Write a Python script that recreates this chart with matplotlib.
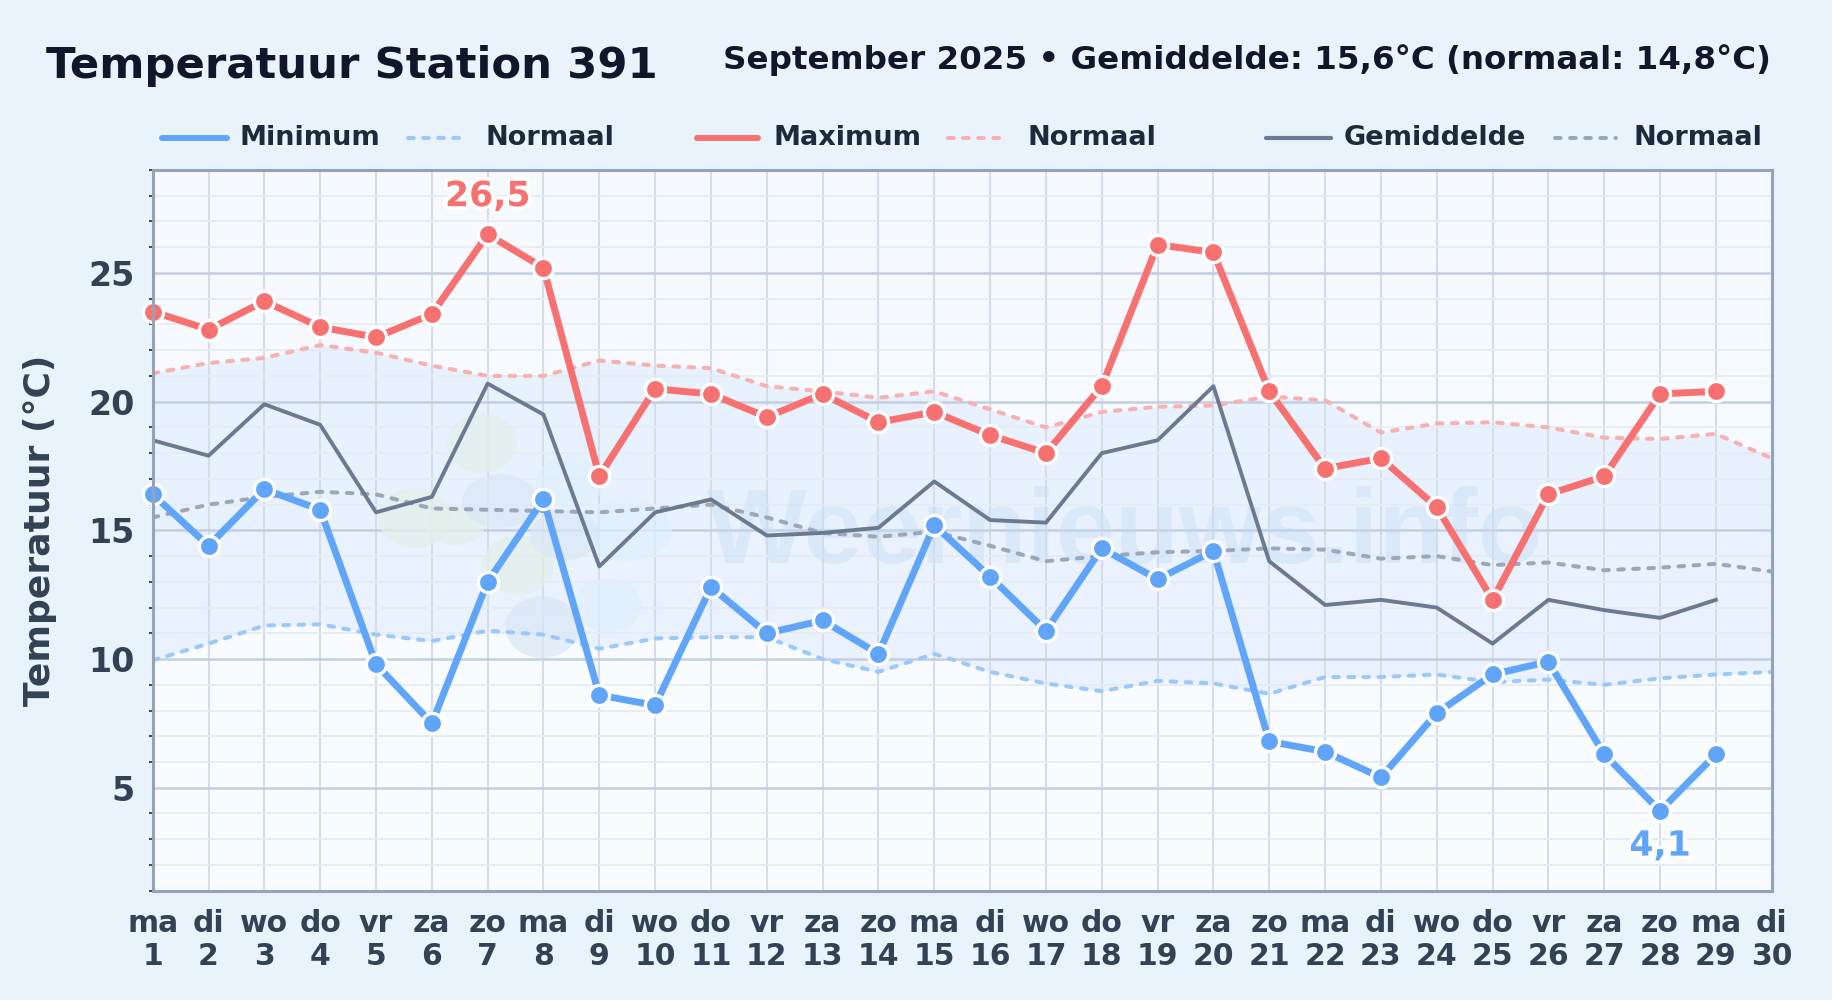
import numpy as np
import matplotlib
matplotlib.use('Agg')
import matplotlib.pyplot as plt
from matplotlib.lines import Line2D
from matplotlib.patches import Ellipse
import matplotlib.patheffects as pe

days = list(range(1, 31))
weekdays = ['ma', 'di', 'wo', 'do', 'vr', 'za', 'zo'] * 4 + ['ma', 'di']

temp_min = [16.4, 14.4, 16.6, 15.8, 9.8, 7.5, 13.0, 16.2, 8.6, 8.2, 12.8, 11.0, 11.5, 10.2, 15.2,
            13.2, 11.1, 14.3, 13.1, 14.2, 6.8, 6.4, 5.4, 7.9, 9.4, 9.9, 6.3, 4.1, 6.3]
temp_max = [23.5, 22.8, 23.9, 22.9, 22.5, 23.4, 26.5, 25.2, 17.1, 20.5, 20.3, 19.4, 20.3, 19.2, 19.6,
            18.7, 18.0, 20.6, 26.1, 25.8, 20.4, 17.4, 17.8, 15.9, 12.3, 16.4, 17.1, 20.3, 20.4]
temp_mean = [18.5, 17.9, 19.9, 19.1, 15.7, 16.3, 20.7, 19.5, 13.6, 15.7, 16.2, 14.8, 14.9, 15.1, 16.9,
             15.4, 15.3, 18.0, 18.5, 20.6, 13.8, 12.1, 12.3, 12.0, 10.6, 12.3, 11.9, 11.6, 12.3]
norm_max = [21.1, 21.5, 21.7, 22.2, 21.9, 21.4, 21.0, 21.0, 21.6, 21.4, 21.3, 20.6, 20.4, 20.15, 20.4,
            19.7, 19.0, 19.6, 19.8, 19.85, 20.2, 20.05, 18.8, 19.15, 19.2, 19.0, 18.6, 18.55, 18.75, 17.8]
norm_min = [9.95, 10.6, 11.3, 11.35, 10.95, 10.7, 11.1, 10.95, 10.4, 10.8, 10.85, 10.85, 10.0, 9.5, 10.2,
            9.5, 9.05, 8.75, 9.15, 9.05, 8.65, 9.3, 9.3, 9.4, 9.1, 9.2, 9.0, 9.25, 9.4, 9.5]
norm_mean = [15.5, 16.0, 16.3, 16.5, 16.4, 15.85, 15.8, 15.75, 15.7, 15.85, 16.0, 15.5, 14.9, 14.75, 14.95,
             14.4, 13.8, 14.0, 14.15, 14.2, 14.3, 14.25, 13.9, 14.0, 13.65, 13.75, 13.45, 13.55, 13.7, 13.4]

BG = '#e9f3fc'
BLUE = '#60a5fa'
RED = '#f87171'
GREY = '#6b7a90'
BLUE_N = '#9cc8fb'
RED_N = '#f9b0b0'
GREY_N = '#9aa8ba'
INK = '#0f172a'
LABEL = '#334155'
DASH = (0, (1.4, 2.35))

W, H = 1832, 1000
plt.rcParams['font.family'] = ['DejaVu Sans']
plt.rcParams['font.weight'] = 'bold'

fig = plt.figure(figsize=(W / 100, H / 100), dpi=100, facecolor=BG)
ax = fig.add_axes([152.7 / W, 1 - 890.7 / H, 1619 / W, 720.7 / H])
ax.set_facecolor('#f8fbff')

# achtergrond verloop
grad = np.linspace(0, 1, 256).reshape(-1, 1)
ax.imshow(grad, extent=[1, 30, 1, 29], aspect='auto', origin='lower', zorder=0,
          cmap=matplotlib.colors.LinearSegmentedColormap.from_list('bg', ['#fafdff', '#f6faff']))

ax.fill_between(days, norm_min, norm_max, color='#dbeafe', alpha=0.5, lw=0, zorder=0.5)

# watermerk
GREEN_B = '#e3efe9'
DARK_B = '#dbe8f6'
PALE_B = '#e0eefc'
blobs = [(482, 443, 70, 60, GREEN_B), (415, 518, 74, 60, GREEN_B), (518, 565, 72, 60, GREEN_B),
         (455, 525, 60, 40, GREEN_B), (570, 482, 68, 52, PALE_B), (627, 530, 90, 62, PALE_B),
         (608, 605, 66, 54, PALE_B), (500, 501, 76, 54, DARK_B), (542, 627, 74, 62, DARK_B),
         (565, 535, 70, 50, DARK_B)]
for bx, by, bw, bh, col in blobs:
    ax.add_patch(Ellipse((1 + (bx - 152.7) / 55.83, 25 - (by - 272.7) / 25.75), bw / 55.83, bh / 25.75,
                         color=col, lw=0, alpha=0.7, zorder=0.6))
ax.text(1125 / W, 1 - 563 / H, 'Weernieuws.info', transform=fig.transFigure, ha='center', va='baseline',
        fontsize=76, family='Liberation Sans', fontweight='bold', color='#c5dcf3', alpha=0.4, zorder=0.7)

ax.set_xlim(1, 30)
ax.set_ylim(1, 29)
ax.set_xticks(days)
ax.set_xticklabels([f'{w}\n{d}' for w, d in zip(weekdays, days)], fontsize=21.5, color=LABEL, linespacing=1.18)
ax.set_yticks([5, 10, 15, 20, 25])
ax.set_yticks([y for y in range(1, 30) if y % 5], minor=True)
ax.tick_params(axis='y', which='major', length=0, labelsize=24, labelcolor=LABEL, pad=13)
ax.tick_params(axis='y', which='minor', length=3, width=1.2, color='#1e293b')
ax.tick_params(axis='x', which='major', length=0, pad=13)
ax.grid(True, axis='y', which='major', color='#c3cfe0', lw=1.8, zorder=1)
ax.grid(True, axis='y', which='minor', color='#e6ecf3', lw=1.3, zorder=1)
ax.grid(True, axis='x', which='major', color='#d5dde8', lw=1.5, zorder=1)
ax.set_axisbelow(True)
for s in ax.spines.values():
    s.set_color('#94a3b8')
    s.set_linewidth(2.2)
    s.set_zorder(6)

dash = dict(lw=2.9, ls=DASH, dash_capstyle='round', zorder=2)
ax.plot(days, norm_min, color=BLUE_N, **dash)
ax.plot(days, norm_max, color=RED_N, **dash)
ax.plot(days, norm_mean, color=GREY_N, **dash)
ax.plot(days[:29], temp_mean, color=GREY, lw=2.8, zorder=3)

marker = dict(marker='o', ms=14.5, mec='white', mew=2.4, lw=5, zorder=4, clip_on=False)
ax.plot(days[:29], temp_min, color=BLUE, **marker)
ax.plot(days[:29], temp_max, color=RED, **marker)

stroke = [pe.withStroke(linewidth=5, foreground='white')]
ax.annotate('26,5', (7, 26.5), xytext=(0, 27.5), textcoords='offset points', ha='center', va='center',
            fontsize=25, color=RED, path_effects=stroke, zorder=5)
ax.annotate('4,1', (28, 4.1), xytext=(0, -25), textcoords='offset points', ha='center', va='center',
            fontsize=25, color=BLUE, path_effects=stroke, zorder=5)

fig.text(46 / W, 1 - 66 / H, 'Temperatuur Station 391', fontsize=31.25, color=INK, ha='left', va='center')
fig.text(1771 / W, 1 - 60 / H, 'September 2025 • Gemiddelde: 15,6°C (normaal: 14,8°C)', fontsize=23.4,
         color=INK, ha='right', va='center')
fig.text(40 / W, 1 - 530 / H, 'Temperatuur (°C)', fontsize=26, color=LABEL, rotation=90, ha='center', va='center')

# legenda
legend_items = [
    ('Minimum', 162, 227, 240, BLUE, 4.3, None),
    ('Normaal', 408, 462, 486, BLUE_N, 2.9, DASH),
    ('Maximum', 697, 758, 773, RED, 4.3, None),
    ('Normaal', 948, 1003, 1027, RED_N, 2.9, DASH),
    ('Gemiddelde', 1266, 1331, 1344, GREY, 3.0, None),
    ('Normaal', 1555, 1616, 1633, GREY_N, 2.9, DASH),
]
for label, x0, x1, xt, col, lw, ls in legend_items:
    fig.add_artist(Line2D([x0 / W, x1 / W], [1 - 137.5 / H] * 2, transform=fig.transFigure, color=col, lw=lw,
                          ls=ls if ls else '-', solid_capstyle='round', dash_capstyle='round'))
    fig.text(xt / W, 1 - 138 / H, label, fontsize=19.5, color='#1e293b', ha='left', va='center')

fig.savefig('out.png', dpi=100, facecolor=BG)
